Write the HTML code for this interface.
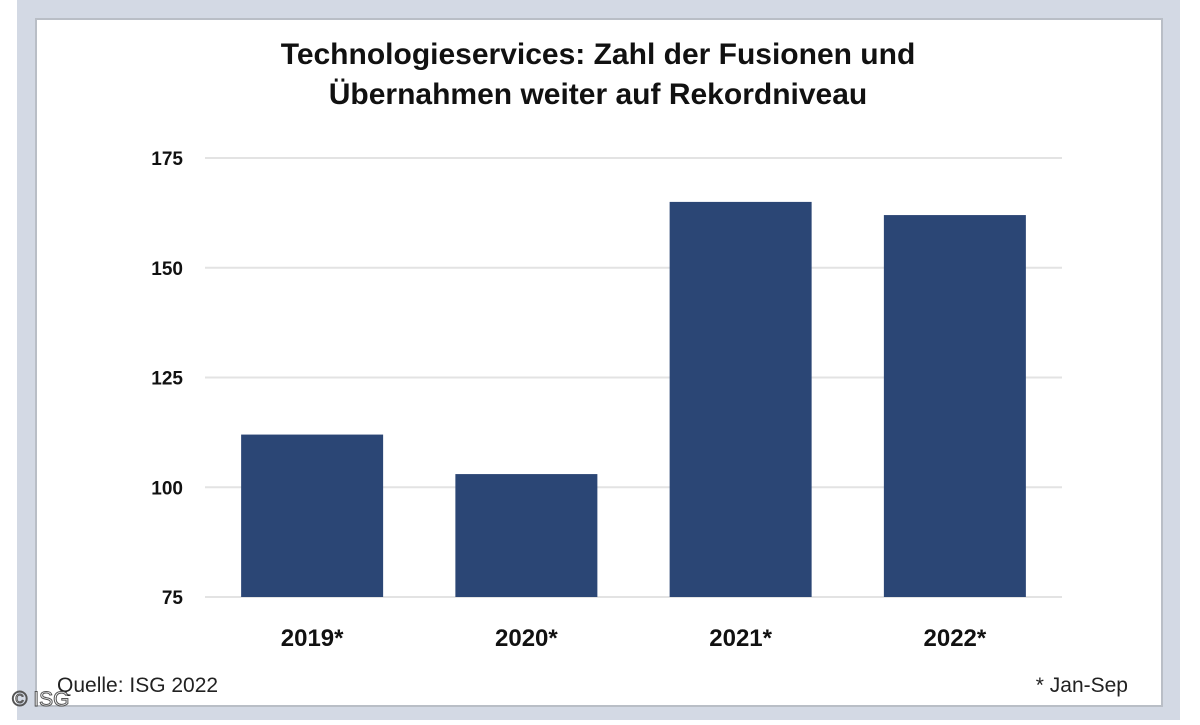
<!DOCTYPE html>
<html><head><meta charset="utf-8"><style>
body{margin:0;width:1200px;height:720px;background:#fff;overflow:hidden;font-family:"Liberation Sans",sans-serif}
</style></head><body>
<svg width="1200" height="720">
<rect x="17" y="0" width="1163" height="720" fill="#d3d9e4"/>
<rect x="36" y="19" width="1126" height="687" fill="#fff" stroke="#b9bec6" stroke-width="2"/>
<text x="598" y="64" text-anchor="middle" font-size="30" font-weight="bold" fill="#111">Technologieservices: Zahl der Fusionen und</text>
<text x="598" y="104" text-anchor="middle" font-size="30" font-weight="bold" fill="#111">Übernahmen weiter auf Rekordniveau</text>
<g id="grid"></g><g id="bars"></g><g id="labels"></g>
<text x="57" y="692" font-size="21" fill="#222">Quelle: ISG 2022</text>
<text x="1128" y="692" text-anchor="end" font-size="21" fill="#222">* Jan-Sep</text>
<text x="12" y="706" font-size="21" fill="#fff" stroke="#555" stroke-width="1">© ISG</text>
</svg>
<script>
const categories=["2019*","2020*","2021*","2022*"];
const values=[112,103,165,162];
const ticks=[75,100,125,150,175];
const NS="http://www.w3.org/2000/svg";
const x0=205,x1=1062,yMin=75,yMax=175,py0=597,py1=158;
const y=v=>py0-(v-yMin)/(yMax-yMin)*(py0-py1);
const band=(x1-x0)/categories.length,bw=142;
function mk(t,a,p){const e=document.createElementNS(NS,t);for(const k in a)e.setAttribute(k,a[k]);document.getElementById(p).appendChild(e);return e;}
ticks.forEach(t=>{
 const l=mk("line",{x1:x0,x2:x1,y1:y(t),y2:y(t),stroke:"#e3e3e3","stroke-width":2},"grid");
 
 
 const tx=mk("text",{x:183,y:y(t)+7,"text-anchor":"end","font-size":19,"font-weight":"bold",fill:"#111"},"labels");
 tx.textContent=t;
 
 
});
categories.forEach((c,i)=>{
 const cx=x0+band*(i+0.5);
 const r=mk("rect",{x:cx-bw/2,y:y(values[i]),width:bw,height:py0-y(values[i]),fill:"#2b4675"},"bars");
 
 
 const t=mk("text",{x:cx,y:646,"text-anchor":"middle","font-size":24,"font-weight":"bold",fill:"#111"},"labels");
 t.textContent=c;
 
 
});
</script>
</body></html>
